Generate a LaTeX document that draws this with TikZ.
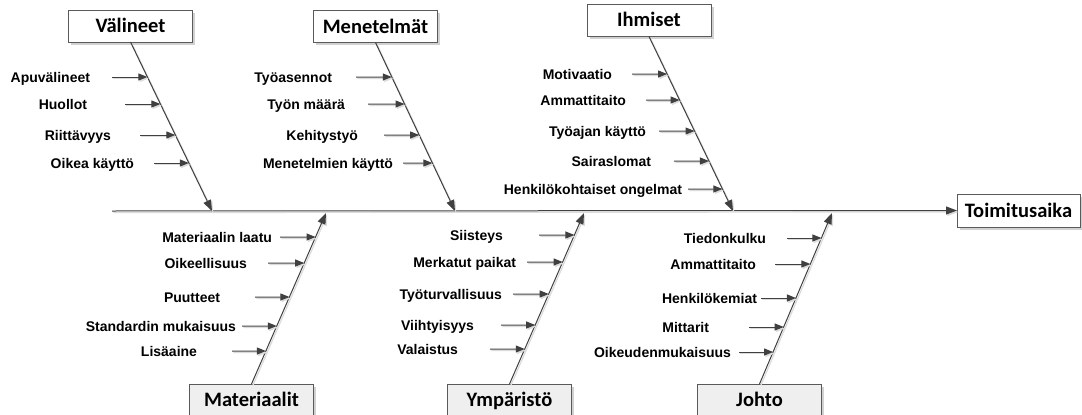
\documentclass[tikz,border=0pt]{standalone}
\usepackage{fontspec}
\setmainfont{Liberation Sans}
\newfontfamily\hdrfont{Carlito}
\usetikzlibrary{arrows.meta,shadows}

\definecolor{linegray}{HTML}{404040}
\definecolor{boxline}{HTML}{5A5A5A}
\definecolor{boxfill}{HTML}{EFEFEF}

\tikzset{
  every node/.style={inner sep=0pt, outer sep=0pt},
  catbox/.style={draw=boxline, line width=1pt, fill=white,
    minimum width=124pt, minimum height=32pt,
    text height=13pt, text depth=0pt,
    font=\hdrfont\bfseries\fontsize{20.5}{24}\selectfont,
    drop shadow={shadow xshift=2.5pt, shadow yshift=-2.5pt, fill=black!30, opacity=0.6}},
  lowbox/.style={catbox, fill=boxfill},
  lbl/.style={anchor=east, font=\bfseries\fontsize{14}{16}\selectfont,
    text height=10pt, text depth=0pt},
  lineshadow/.style={preaction={draw=black!14, line width=1.2pt,
    transform canvas={shift={(1.3pt,-1.5pt)}}}},
  bone/.style={lineshadow, draw=linegray, line width=1pt, -{Triangle[length=11pt,width=8pt]}},
  sub/.style={lineshadow, draw=linegray, line width=1pt, -{Triangle[length=9pt,width=7pt]}},
}

% one cause arrow: name, text, right edge of text, y, tail x, bone
\newcommand\subcause[6]{%
  \node[lbl] (#1) at (#3,#4) {#2};
  \coordinate (#1-tail) at (#5,#4);
  \coordinate (#1-tip) at (intersection cs: first line={(#6-a)--(#6-b)}, second line={(0,#4)--(10,#4)});
  \draw[sub] (#1-tail) -- (#1-tip);
}

\begin{document}
\begin{tikzpicture}[x=1pt,y=-1pt]
\useasboundingbox (0,0) rectangle (1082,415);

% category boxes
\node[catbox] (vbox) at (130.5,26) {Välineet};
\node[catbox] (mbox) at (375.5,26.5) {Menetelmät};
\node[catbox] (ibox) at (649,20.5) {Ihmiset};
\node[lowbox] (mabox) at (251.5,400) {Materiaalit};
\node[lowbox] (ybox) at (509.5,400) {Ympäristö};
\node[lowbox] (jbox) at (759.5,400) {Johto};
\node[catbox, minimum width=123pt, minimum height=33pt] (effect) at (1018.5,210.5) {Toimitusaika};

% spine
\coordinate (spine-tail) at (112,211);
\draw[bone] (spine-tail) -- (effect.west);

% bones
\coordinate (v-a) at (vbox.south);   \coordinate (v-b) at (212,211);
\coordinate (m-a) at (mbox.south);   \coordinate (m-b) at (455,211);
\coordinate (i-a) at (ibox.south);   \coordinate (i-b) at (733,211);
\coordinate (ma-a) at (mabox.north); \coordinate (ma-b) at (326,213);
\coordinate (y-a) at (ybox.north);   \coordinate (y-b) at (584,213);
\coordinate (j-a) at (jbox.north);   \coordinate (j-b) at (832,213);
\foreach \b in {v,m,i,ma,y,j} { \draw[bone] (\b-a) -- (\b-b); }

% Välineet
\subcause{v1}{Apuvälineet}{90}{77}{112}{v}
\subcause{v2}{Huollot}{87}{104}{125}{v}
\subcause{v3}{Riittävyys}{111}{135}{140}{v}
\subcause{v4}{Oikea käyttö}{134}{163}{154}{v}

% Menetelmät
\subcause{m1}{Työasennot}{332}{77}{356}{m}
\subcause{m2}{Työn määrä}{345}{104}{368}{m}
\subcause{m3}{Kehitystyö}{358}{135}{384}{m}
\subcause{m4}{Menetelmien käyttö}{393}{163}{403}{m}

% Ihmiset
\subcause{i1}{Motivaatio}{612}{74}{632}{i}
\subcause{i2}{Ammattitaito}{626}{100}{646}{i}
\subcause{i3}{Työajan käyttö}{646}{131}{659}{i}
\subcause{i4}{Sairaslomat}{651}{161}{674}{i}
\subcause{i5}{Henkilökohtaiset ongelmat}{682}{189}{688}{i}

% Materiaalit
\subcause{ma1}{Materiaalin laatu}{272}{237}{280}{ma}
\subcause{ma2}{Oikeellisuus}{247}{263}{268}{ma}
\subcause{ma3}{Puutteet}{220}{297}{255}{ma}
\subcause{ma4}{Standardin mukaisuus}{236}{326}{242}{ma}
\subcause{ma5}{Lisäaine}{197}{351}{232}{ma}

% Ympäristö
\subcause{y1}{Siisteys}{503}{235}{539}{y}
\subcause{y2}{Merkatut paikat}{516}{262}{527}{y}
\subcause{y3}{Työturvallisuus}{502}{294}{513}{y}
\subcause{y4}{Viihtyisyys}{474}{325}{501}{y}
\subcause{y5}{Valaistus}{458}{349}{490}{y}

% Johto
\subcause{j1}{Tiedonkulku}{766}{238}{787}{j}
\subcause{j2}{Ammattitaito}{756}{264}{775}{j}
\subcause{j3}{Henkilökemiat}{757}{298}{761}{j}
\subcause{j4}{Mittarit}{709}{327}{749}{j}
\subcause{j5}{Oikeudenmukaisuus}{731}{352}{739}{j}
\end{tikzpicture}
\end{document}
